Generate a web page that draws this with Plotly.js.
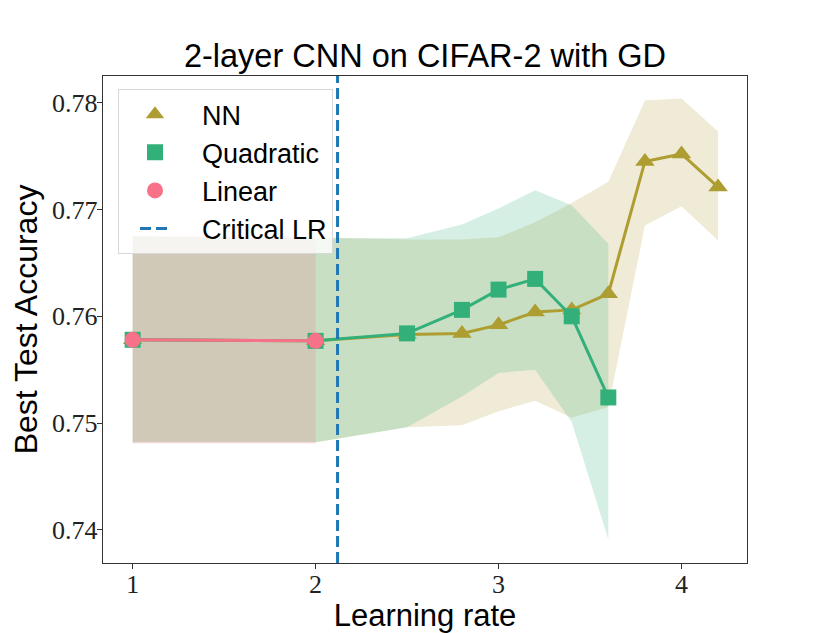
<!DOCTYPE html>
<html>
<head>
<meta charset="utf-8">
<script src="https://cdn.plot.ly/plotly-3.0.1.min.js"></script>
<style>html,body{margin:0;padding:0;background:#fff;}#chart{width:830px;height:633px;}</style>
</head>
<body>
<div id="chart"></div>
<script>
// Learning rates
var lrNN = [1, 2, 2.5, 2.8, 3.0, 3.2, 3.4, 3.6, 3.8, 4.0, 4.2];
var lrQuad = [1, 2, 2.5, 2.8, 3.0, 3.2, 3.4, 3.6];
var lrLin = [1, 2];

// NN series
var nnMean  = [0.7578, 0.7577, 0.7583, 0.7584, 0.7592, 0.7604, 0.7606, 0.7621, 0.7745, 0.7752, 0.7721];
var nnUpper = [0.7675, 0.7674, 0.7672, 0.7672, 0.7674, 0.7688, 0.7706, 0.7726, 0.7802, 0.7804, 0.7773];
var nnLower = [0.7482, 0.7482, 0.7496, 0.7498, 0.7511, 0.7521, 0.7505, 0.7515, 0.7685, 0.7703, 0.7671];

// Quadratic series
var quadMean  = [0.7578, 0.7577, 0.7584, 0.7606, 0.7625, 0.7635, 0.7600, 0.7524];
var quadUpper = [0.7675, 0.7673, 0.7673, 0.7686, 0.7701, 0.7718, 0.7704, 0.7668];
var quadLower = [0.7482, 0.7482, 0.7496, 0.7525, 0.7547, 0.7550, 0.7501, 0.7391];

// Linear series
var linMean  = [0.7578, 0.7577];
var linUpper = [0.7675, 0.7675];
var linLower = [0.7481, 0.7481];

var criticalLR = 2.12;

var seriesNames = ['NN', 'Quadratic', 'Linear', 'Critical LR'];
var xTicks = [1, 2, 3, 4];
var yTicks = [0.74, 0.75, 0.76, 0.77, 0.78];
var yTickLabels = ['0.74', '0.75', '0.76', '0.77', '0.78'];

var cNN = '#ae9d31', cQuad = '#33b07a', cLin = '#f77189';
function rgba(hex, a) {
  var r = parseInt(hex.slice(1,3),16), g = parseInt(hex.slice(3,5),16), b = parseInt(hex.slice(5,7),16);
  return 'rgba(' + r + ',' + g + ',' + b + ',' + a + ')';
}
var pad = '\u2003';

function band(x, lo, hi, color) {
  return [
    {x: x, y: lo, mode: 'lines', line: {width: 0, color: 'rgba(0,0,0,0)'}, showlegend: false, hoverinfo: 'skip'},
    {x: x, y: hi, mode: 'lines', line: {width: 0, color: 'rgba(0,0,0,0)'}, fill: 'tonexty', fillcolor: rgba(color, 0.2), showlegend: false, hoverinfo: 'skip'}
  ];
}
function line(x, y, color) {
  return {x: x, y: y, mode: 'lines', line: {color: color, width: 3}, showlegend: false};
}
function markers(x, y, color, symbol, size, name, rank) {
  return {x: x, y: y, mode: 'markers', name: pad + name, legendrank: rank,
    marker: {color: color, symbol: symbol, size: size, line: {width: 0}}};
}

var data = [].concat(
  band(lrNN, nnLower, nnUpper, cNN),
  band(lrQuad, quadLower, quadUpper, cQuad),
  band(lrLin, linLower, linUpper, cLin),
  [line(lrNN, nnMean, cNN), markers(lrNN, nnMean, cNN, 'triangle-up', 17, seriesNames[0], 1),
   line(lrQuad, quadMean, cQuad), markers(lrQuad, quadMean, cQuad, 'square', 16, seriesNames[1], 2),
   line(lrLin, linMean, cLin), markers(lrLin, linMean, cLin, 'circle', 16, seriesNames[2], 3)]
);

var serif = 'Liberation Serif, Times New Roman, serif';
var sans = 'Liberation Sans, Arial, sans-serif';

var layout = {
  width: 830, height: 633,
  margin: {l: 103, r: 83, t: 76, b: 70},
  paper_bgcolor: '#fff', plot_bgcolor: '#fff',
  title: {text: '2-layer CNN on CIFAR-2 with GD', font: {family: sans, size: 32.5, color: '#000'},
          x: 0.5, xref: 'paper', y: 1, yref: 'paper', yanchor: 'bottom', pad: {b: 9}},
  xaxis: {range: [0.838, 4.358], tickvals: xTicks, ticktext: xTicks.map(String),
          showgrid: false, zeroline: false, showline: true, linecolor: '#333', linewidth: 1.3, mirror: true,
          ticks: 'outside', ticklen: 5, tickwidth: 1, tickcolor: '#333', ticklabelstandoff: -8,
          tickfont: {family: serif, size: 26, color: '#222'},
          title: {text: 'Learning rate', font: {family: sans, size: 31, color: '#000'}, standoff: 0}},
  yaxis: {range: [0.7369, 0.7825], tickvals: yTicks, ticktext: yTickLabels,
          showgrid: false, zeroline: false, showline: true, linecolor: '#333', linewidth: 1.3, mirror: true,
          ticks: 'outside', ticklen: 5, tickwidth: 1, tickcolor: '#333', ticklabelstandoff: -6,
          tickfont: {family: serif, size: 26, color: '#222'},
          title: {text: 'Best Test Accuracy', font: {family: sans, size: 32, color: '#000'}, standoff: 4}},
  legend: {x: 0.0233, y: 0.973, xanchor: 'left', yanchor: 'top', traceorder: 'normal', indentation: 16,
           bgcolor: 'rgba(255,255,255,0.8)', bordercolor: '#d8d8d8', borderwidth: 1,
           font: {family: sans, size: 27, color: '#000'}, itemsizing: 'trace', tracegroupgap: 4},
  shapes: [{type: 'line', xref: 'x', yref: 'paper', x0: criticalLR, x1: criticalLR, y0: 0, y1: 1,
            line: {color: '#1f77b4', width: 3, dash: '11px,5px'}, showlegend: true, name: pad + seriesNames[3], legendrank: 4}],
  showlegend: true
};

Plotly.newPlot('chart', data, layout, {staticPlot: true, displayModeBar: false});
</script>
</body>
</html>
